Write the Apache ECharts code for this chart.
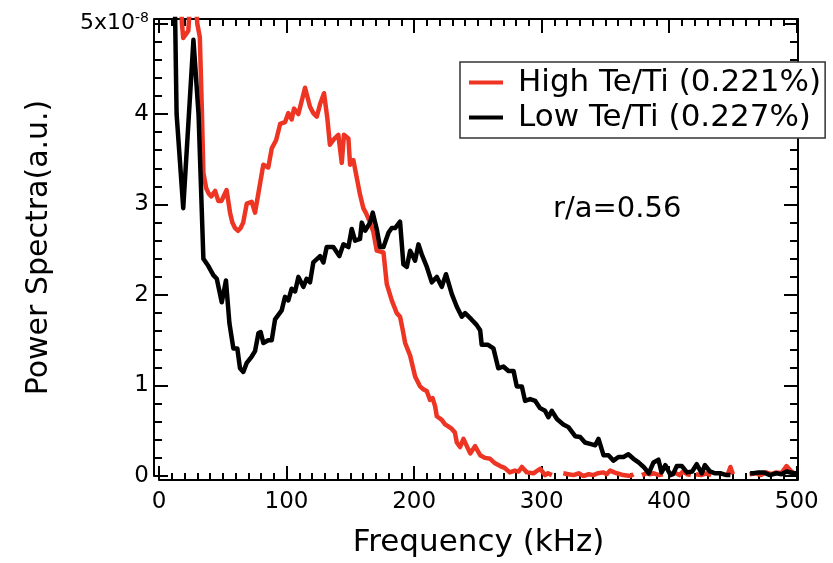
<!DOCTYPE html>
<html><head><meta charset="utf-8">
<script src="https://cdn.jsdelivr.net/npm/echarts@6/dist/echarts.min.js"></script>
<style>html,body{margin:0;padding:0;background:#fff}#c{width:833px;height:563px}</style>
</head><body><div id="c"></div>
<script>
// ---- data (frequency in kHz, power in units of 1e-8 a.u.) ----
const seriesNames = ['High Te/Ti (0.221%)', 'Low Te/Ti (0.227%)'];
const highFreq = [15,18,19,21,23,25,28,30,32,33.5,34.8,37,39,41,44,46.5,49,51,53,55.7,57.5,59.6,62,64,66,68.8,72.7,75.3,78,81.8,85.7,88.4,91.8,95,98.8,101.4,104,105.9,109.3,114.5,118.4,121,123.7,126.3,129.4,132,134,137,140.6,142,143.3,145,148.5,149.8,152.4,155,157.6,160.2,162.5,165.5,168,170.7,173.5,176,178.6,182.5,186.4,189,191,193,196.9,200.8,204.7,207,209.9,212.5,214.5,216.5,217.8,221.7,224.3,226.5,229.6,232,233.5,236,238.7,240,244,247.8,251.8,255.7,259.6,263.5,267.5,271,275,279,282,284.5,288.4,293.6,298.8,302.7,305,308,312,317,321,325,329,332.8,337,340.6,344,348.5,351,353.7,357,359,364,369.4,372,375,378.6,382,385,388,392,395,398,401,404,408,411,414,417,419,421,425,429,433,437,446,448,450,455,463,468,472,476,480,484,488,492,495,498];
const highVal = [6.0,5.0,4.84,4.88,4.92,5.4,5.4,5.0,4.85,4.1,3.35,3.18,3.12,3.09,3.15,3.04,3.04,3.10,3.16,2.91,2.80,2.74,2.71,2.74,2.80,3.01,3.03,2.91,3.13,3.44,3.41,3.62,3.71,3.89,3.91,4.01,3.94,4.06,4.00,4.29,4.08,4.01,3.97,4.11,4.23,3.95,3.66,3.72,3.77,3.77,3.46,3.77,3.73,3.44,3.49,3.30,3.11,2.96,2.90,2.80,2.70,2.49,2.48,2.47,2.12,1.94,1.80,1.76,1.62,1.47,1.33,1.10,0.99,0.96,0.94,0.84,0.86,0.77,0.66,0.62,0.57,0.55,0.52,0.48,0.37,0.32,0.41,0.40,0.25,0.33,0.23,0.20,0.19,0.14,0.11,0.09,0.04,0.06,0.05,0.10,0.04,0.03,0.08,0.01,0.03,0.01,null,0.03,0.02,0.01,0.03,0.00,0.02,0.01,0.03,0.04,0.02,0.06,0.04,0.03,0.01,0.00,0.02,null,0.01,0.03,0.02,0.03,0.01,0.02,null,0.02,0.04,0.01,0.05,0.02,0.01,null,0.02,0.01,0.03,0.01,null,0.02,0.10,0.02,null,0.02,0.03,0.01,0.04,0.02,0.04,0.03,0.11,0.06,0.03];
const lowFreq = [10,12.5,13.8,19,27,31,34.8,38.7,42.6,45.3,49.2,52.5,55.2,58.3,61.4,63.5,66.1,68.8,72.7,75.3,78,79.7,81.8,85.7,88.4,91,96.2,98.8,101.4,104,106.7,109.3,113.2,115.8,118.4,121,126.3,128.9,131.5,136.7,141.4,144.6,148.5,151.1,153.7,157.6,159,161.6,165.5,167.6,170.7,173.3,176,180,182.5,185.1,189,191.6,194.3,196.9,200.8,203.4,206,210,213.9,217.8,221.7,225,229.6,233.5,237.4,240,245,249,251.8,253,258,262.2,266,270,274,278,280.5,284.5,287,291,295,298.8,302.7,305.3,308,312,317,321,326.3,330.2,334,339.4,342,344.6,348.5,352.4,356.3,360.2,364.2,368,372,376,380,384,387.7,391.6,394,397,401,403,406,410,414,418,421.6,425.6,428,432,436,440,445,448,450,463.5,466,470,474,479,484,488,492,497.5,500];
const lowVal = [7.0,5.2,4.0,2.96,4.82,4.0,2.40,2.32,2.22,2.18,1.92,2.16,1.69,1.41,1.41,1.19,1.15,1.25,1.32,1.38,1.58,1.59,1.47,1.50,1.50,1.73,1.83,1.98,1.94,2.07,2.04,2.20,2.09,2.18,2.14,2.36,2.43,2.36,2.53,2.53,2.43,2.56,2.53,2.73,2.60,2.62,2.80,2.71,2.80,2.91,2.73,2.53,2.53,2.69,2.74,2.74,2.81,2.34,2.31,2.49,2.38,2.56,2.45,2.31,2.14,2.20,2.09,2.23,2.01,1.87,1.76,1.80,1.73,1.67,1.61,1.45,1.45,1.41,1.19,1.21,1.16,1.16,0.99,0.99,0.83,0.85,0.83,0.75,0.72,0.65,0.72,0.63,0.57,0.54,0.44,0.43,0.37,0.35,0.34,0.41,0.23,0.23,0.17,0.21,0.21,0.24,0.19,0.15,0.10,0.03,0.15,0.18,0.04,0.12,0.01,0.02,0.11,0.11,0.04,0.05,0.13,0.03,0.12,0.05,0.03,0.03,0.01,0.01,null,0.03,0.03,0.04,0.04,0.01,0.03,0.02,0.05,0.03,0.03];
const xTicks = [0, 100, 200, 300, 400, 500];
const yTicks = [0, 1, 2, 3, 4, 5];
const annotation = 'r/a=0.56';

const FONT = 'DejaVu Sans';
const RED = '#ee3524';
const BLACK = '#000000';
const XMAX = 501, YMAX = 5.05;

function zip(a, b) { return a.map((x, i) => [x, b[i]]); }

function xAx(pos, interval, len, main) {
  return {
    type: 'value', position: pos, min: 0, max: XMAX, interval: interval,
    offset: pos === 'bottom' ? 4 : 0,
    axisLine: { show: main, onZero: false, lineStyle: { color: '#000', width: 2 } },
    axisTick: { show: true, inside: true, length: len, lineStyle: { color: '#000', width: 2 } },
    axisLabel: {
      show: main && pos === 'bottom', margin: 11, showMaxLabel: false,
      color: '#000', fontFamily: FONT, fontSize: 23,
      formatter: v => (xTicks.indexOf(v) >= 0 ? String(v) : '')
    },
    splitLine: { show: false },
    name: (main && pos === 'bottom') ? 'Frequency (kHz)' : '',
    nameLocation: 'middle', nameGap: 47,
    nameTextStyle: { color: '#000', fontFamily: FONT, fontSize: 31 }
  };
}
function yAx(pos, interval, len, main) {
  return {
    type: 'value', position: pos, min: 0, max: YMAX, interval: interval,
    offset: pos === 'left' ? 5 : 0,
    axisLine: { show: main, onZero: false, lineStyle: { color: '#000', width: 2 } },
    axisTick: { show: true, inside: true, length: len, lineStyle: { color: '#000', width: 2 } },
    axisLabel: {
      show: main && pos === 'left', margin: 5, showMaxLabel: false,
      color: '#000', fontFamily: FONT, fontSize: 23,
      formatter: v => {
        if (v === 5) return '{b|5x10}{s|-8}';
        return (yTicks.indexOf(v) >= 0 ? String(v) : '');
      },
      rich: {
        b: { fontFamily: FONT, fontSize: 22, color: '#000' },
        s: { fontFamily: FONT, fontSize: 14, color: '#000', verticalAlign: 'top', padding: [0, 0, 10, 0] }
      }
    },
    splitLine: { show: false },
    name: (main && pos === 'left') ? 'Power Spectra(a.u.)' : '',
    nameLocation: 'middle', nameGap: 100, nameRotate: 90,
    nameTextStyle: { color: '#000', fontFamily: FONT, fontSize: 30 }
  };
}

const chart = echarts.init(document.getElementById('c'), null, { renderer: 'canvas' });
chart.setOption({
  animation: false,
  backgroundColor: '#fff',
  grid: { left: 159, right: 35, top: 19, bottom: 82, containLabel: false },
  xAxis: [xAx('bottom', 100, 14, true), xAx('bottom', 10, 7, false), xAx('top', 100, 14, true), xAx('top', 10, 7, false)],
  yAxis: [yAx('left', 1, 14, true), yAx('left', 0.2, 8, false), yAx('right', 1, 14, true), yAx('right', 0.2, 8, false)],
  legend: {
    left: 460, top: 62, orient: 'vertical',
    padding: [3, 4, 3, 9], itemGap: 0,
    backgroundColor: '#fff', borderColor: '#333', borderWidth: 1.5,
    icon: 'rect', itemWidth: 34, itemHeight: 4,
    selectedMode: false,
    textStyle: { fontFamily: FONT, fontSize: 31, color: '#000', lineHeight: 35, padding: [0, 0, 0, 10] },
    data: seriesNames
  },
  graphic: [{
    type: 'text', left: 553, top: 195,
    style: { text: annotation, fontFamily: FONT, fontSize: 29, fill: '#000' }
  }],
  series: [
    { name: seriesNames[0], type: 'line', xAxisIndex: 0, yAxisIndex: 0, showSymbol: false,
      color: RED, lineStyle: { color: RED, width: 4.5, join: 'round' }, data: zip(highFreq, highVal) },
    { name: seriesNames[1], type: 'line', xAxisIndex: 0, yAxisIndex: 0, showSymbol: false,
      color: BLACK, lineStyle: { color: BLACK, width: 4.5, join: 'round' }, data: zip(lowFreq, lowVal) }
  ]
});
</script>
</body></html>
